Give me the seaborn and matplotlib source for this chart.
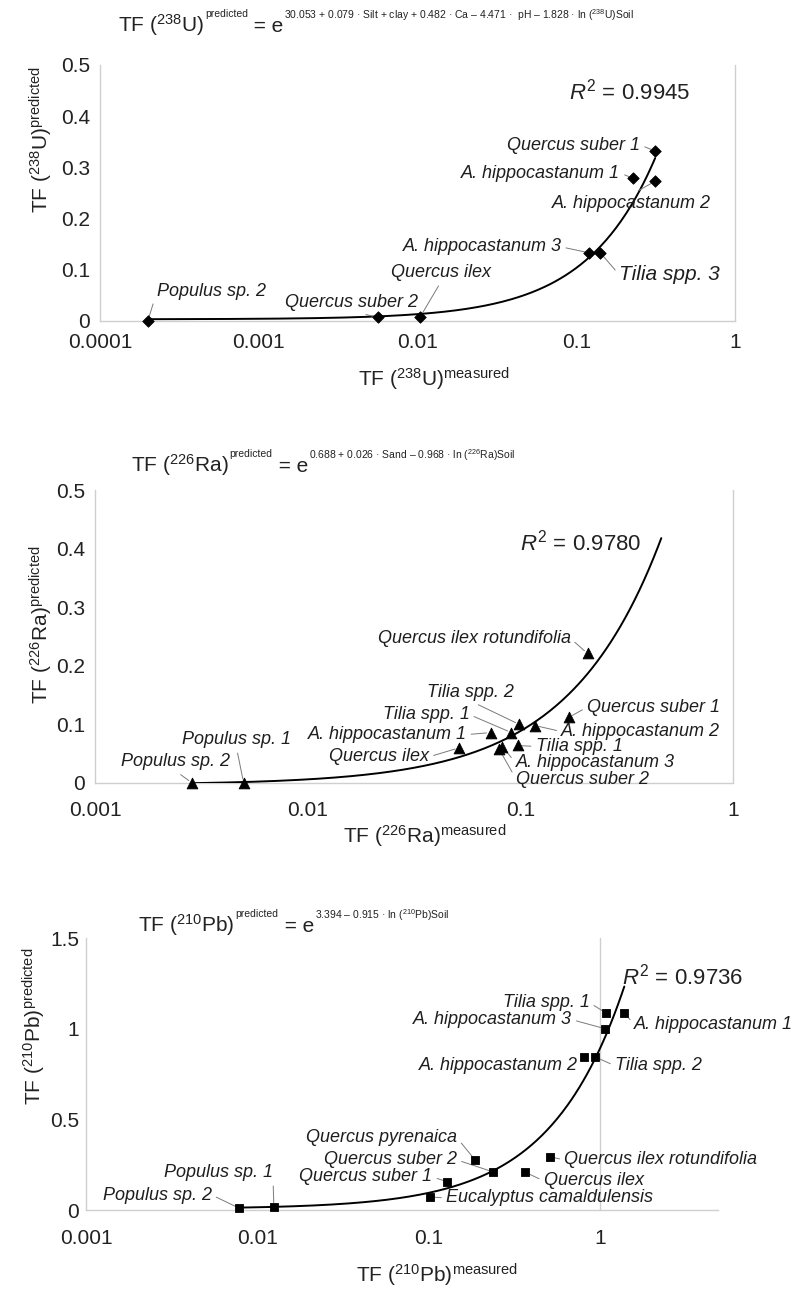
import numpy as np
import pandas as pd
import matplotlib
matplotlib.use("Agg")
import matplotlib.pyplot as plt
import seaborn as sns
from matplotlib.ticker import FuncFormatter, NullLocator

# ---- values ----
u_species = ["Populus sp. 2", "Quercus suber 2", "Quercus ilex", "A. hippocastanum 3",
             "Tilia spp. 3", "A. hippocastanum 1", "Quercus suber 1", "A. hippocastanum 2"]
u_measured = [0.0002, 0.0056, 0.0104, 0.121, 0.142, 0.228, 0.314, 0.314]
u_predicted = [0.0, 0.007, 0.008, 0.133, 0.133, 0.279, 0.332, 0.273]
u_r2 = "0.9945"

ra_species = ["Populus sp. 2", "Populus sp. 1", "Quercus ilex", "A. hippocastanum 1",
              "Tilia spp. 1", "Tilia spp. 2", "A. hippocastanum 2", "Quercus suber 1",
              "Quercus ilex rotundifolia", "Tilia spp. 1", "A. hippocastanum 3", "Quercus suber 2"]
ra_measured = [0.00286, 0.0050, 0.0515, 0.0724, 0.0908, 0.0989, 0.1175, 0.169,
               0.207, 0.097, 0.0824, 0.0794]
ra_predicted = [0.0, 0.0, 0.060, 0.086, 0.086, 0.100, 0.098, 0.112,
                0.221, 0.064, 0.062, 0.058]
ra_r2 = "0.9780"

pb_species = ["Populus sp. 2", "Populus sp. 1", "Quercus suber 1", "Quercus suber 2",
              "Quercus pyrenaica", "Eucalyptus camaldulensis", "Quercus ilex",
              "Quercus ilex rotundifolia", "A. hippocastanum 2", "Tilia spp. 2",
              "Tilia spp. 1", "A. hippocastanum 3", "A. hippocastanum 1"]
pb_measured = [0.0078, 0.0125, 0.129, 0.238, 0.187, 0.102, 0.364, 0.514,
               0.804, 0.936, 1.08, 1.07, 1.39]
pb_predicted = [0.011, 0.017, 0.155, 0.21, 0.276, 0.072, 0.21, 0.293,
                0.845, 0.845, 1.088, 1.0, 1.088]
pb_r2 = "0.9736"

# trend line of the Ra panel is drawn forward past the last point
ra_trend_end = 0.46

# ---- label placement (pixel offsets from the marker) ----
u_layout = [(9, 29, "left"), (-26, 15, "center"), (21, 44, "center"), (-28, 6, "right"),
            (19, -22, "left"), (-13, 5, "right"), (-15, 6, "right"), (-24, -22, "center")]
u_fs = [13, 13, 13, 13, 15, 13, 13, 13]

ra_layout = [(-17, 21, "center"), (-7, 43, "center"), (-30, -9, "right"), (-24, -2, "right"),
             (-42, 18, "right"), (-49, 32, "center"), (26, -6, "left"), (18, 10, "left"),
             (-17, 15, "right"), (18, -1, "left"), (13, -16, "left"), (17, -30, "left")]
ra_fs = [13] * len(ra_species)

pb_layout = [(-27, 13, "right"), (-1, 34, "right"), (-15, 5, "right"), (-36, 12, "right"),
             (-18, 22, "right"), (16, -1, "left"), (19, -9, "left"), (14, -3, "left"),
             (-6, -9, "right"), (20, -9, "left"), (-16, 10, "right"), (-33, 9, "right"),
             (10, -12, "left")]
pb_fs = [13] * len(pb_species)

W, H = 799, 1294
GRAY = "#cfcfcf"
INK = "#1e1e1e"

sns.set_style("white")
plt.rcParams["font.family"] = ["Liberation Sans", "DejaVu Sans"]
plt.rcParams["mathtext.fontset"] = "custom"
plt.rcParams["mathtext.rm"] = "Liberation Sans"
plt.rcParams["mathtext.it"] = "Liberation Sans:italic"
plt.rcParams["mathtext.bf"] = "Liberation Sans:bold"
plt.rcParams["mathtext.sf"] = "Liberation Sans"

fig = plt.figure(figsize=(W / 100, H / 100), dpi=100)


def box(l, t, r, b):
    return [l / W, 1 - b / H, (r - l) / W, (b - t) / H]


def leader_start(ha, dy):
    # point of the label box the leader line leaves from
    if ha == "left":
        return (0, 0.5)
    if ha == "right":
        return (1, 0.5)
    return (0.5, 0) if dy > 0 else (0.5, 1)


def draw_panel(ax, species, measured, predicted, marker, msize, layout, fsizes,
               xlim, ylim, xticks, yticks, xpad, ypad, trend_end=None):
    df = pd.DataFrame({"species": species, "measured": measured, "predicted": predicted})
    slope, icpt = np.polyfit(df["measured"], df["predicted"], 1)
    end = trend_end if trend_end else df["measured"].max()
    grid = np.geomspace(df["measured"].min(), end, 300)
    sns.lineplot(x=grid, y=icpt + slope * grid, color="black", linewidth=1.4, ax=ax, zorder=3)
    sns.scatterplot(data=df, x="measured", y="predicted", marker=marker, s=msize,
                    color="black", edgecolor="black", linewidth=0.6, ax=ax,
                    zorder=4, clip_on=False, legend=False)

    for name, x, y, (dx, dy, ha), fs in zip(species, measured, predicted, layout, fsizes):
        ax.annotate(name, xy=(x, y), xytext=(dx, dy), textcoords="offset pixels",
                    ha=ha, va="center", fontsize=fs, style="italic", color=INK,
                    annotation_clip=False,
                    arrowprops=dict(arrowstyle="-", color="#7a7a7a", lw=0.7,
                                    shrinkA=1, shrinkB=3,
                                    relpos=leader_start(ha, dy)))

    ax.set_xscale("log")
    ax.set_xlim(xlim)
    ax.set_ylim(ylim)
    ax.set_xticks(xticks)
    ax.xaxis.set_minor_locator(NullLocator())
    ax.set_yticks(yticks)
    fmt = FuncFormatter(lambda v, p: f"{v:g}")
    ax.xaxis.set_major_formatter(fmt)
    ax.yaxis.set_major_formatter(fmt)
    ax.tick_params(length=0, labelsize=15, labelcolor="#222222")
    ax.tick_params(axis="x", pad=xpad)
    ax.tick_params(axis="y", pad=ypad)
    ax.grid(False)
    for s in ["top", "right"]:
        ax.spines[s].set_visible(False)
    for s in ["left", "bottom"]:
        ax.spines[s].set_color(GRAY)
        ax.spines[s].set_linewidth(1)
    ax.axvline(1, color=GRAY, lw=1, clip_on=False, zorder=1)


def equation(ax, x, y, iso, exponent):
    # base text, small "predicted", " = e", small exponent, chained left to right
    base = H - y
    t1 = ax.annotate(r"TF ($^{%s}$%s)" % iso, xy=(x, base), xycoords="figure pixels",
                     va="baseline", ha="left", fontsize=15, color="#222222",
                     annotation_clip=False)
    t2 = ax.annotate("predicted", xy=(1, base + 15), xycoords=(t1, "figure pixels"),
                     xytext=(1, 0), textcoords="offset pixels",
                     va="baseline", ha="left", fontsize=7.5, color="#222222",
                     annotation_clip=False)
    t3 = ax.annotate(" = e", xy=(1, base), xycoords=(t2, "figure pixels"),
                     va="baseline", ha="left", fontsize=15, color="#222222",
                     annotation_clip=False)
    ax.annotate(exponent, xy=(1, base + 13), xycoords=(t3, "figure pixels"),
                xytext=(1, 0), textcoords="offset pixels",
                va="baseline", ha="left", fontsize=7.5, color="#222222",
                annotation_clip=False)


def r2_text(ax, x, y, val):
    ax.annotate(r"$R^2$ = " + val, xy=(x, H - y), xycoords="figure pixels",
                va="center", ha="left", fontsize=16, color="#222222",
                annotation_clip=False)


# ---- panel 1: 238U ----
ax1 = fig.add_axes(box(100, 65, 735, 321))
draw_panel(ax1, u_species, u_measured, u_predicted, "D", 34, u_layout, u_fs,
           (1e-4, 1), (0, 0.5), [1e-4, 1e-3, 1e-2, 1e-1, 1], np.arange(0, 0.51, 0.1),
           xpad=9, ypad=7)
ax1.set_xlabel(r"TF ($^{238}$U)$^{\mathrm{measured}}$", fontsize=15, color="#222222")
ax1.xaxis.set_label_coords(0.526, -0.176)
ax1.set_ylabel(r"TF ($^{238}$U)$^{\mathrm{predicted}}$", fontsize=15, color="#222222")
ax1.yaxis.set_label_coords(-0.071, 0.707)
equation(ax1, 118, 32, ("238", "U"),
         r"30.053 + 0.079 · Silt + clay + 0.482 · Ca – 4.471 ·  pH – 1.828 · ln ($^{238}$U)Soil")
r2_text(ax1, 569, 92, u_r2)

# ---- panel 2: 226Ra ----
ax2 = fig.add_axes(box(95, 490, 733, 783))
draw_panel(ax2, ra_species, ra_measured, ra_predicted, "^", 60, ra_layout, ra_fs,
           (1e-3, 1), (0, 0.5), [1e-3, 1e-2, 1e-1, 1], np.arange(0, 0.51, 0.1),
           xpad=13, ypad=7, trend_end=ra_trend_end)
ax2.set_xlabel(r"TF ($^{226}$Ra)$^{\mathrm{measured}}$", fontsize=15, color="#222222")
ax2.xaxis.set_label_coords(0.516, -0.137)
ax2.set_ylabel(r"TF ($^{226}$Ra)$^{\mathrm{predicted}}$", fontsize=15, color="#222222")
ax2.yaxis.set_label_coords(-0.063, 0.539)
equation(ax2, 131, 472, ("226", "Ra"),
         r"0.688 + 0.026 · Sand – 0.968 · ln ($^{226}$Ra)Soil")
r2_text(ax2, 520, 543, ra_r2)

# ---- panel 3: 210Pb ----
ax3 = fig.add_axes(box(86, 938, 718, 1210))
draw_panel(ax3, pb_species, pb_measured, pb_predicted, "s", 34, pb_layout, pb_fs,
           (1e-3, 4.9), (0, 1.5), [1e-3, 1e-2, 1e-1, 1], [0, 0.5, 1, 1.5],
           xpad=14, ypad=5)
ax3.set_xlabel(r"TF ($^{210}$Pb)$^{\mathrm{measured}}$", fontsize=15, color="#222222")
ax3.xaxis.set_label_coords(0.555, -0.19)
ax3.set_ylabel(r"TF ($^{210}$Pb)$^{\mathrm{predicted}}$", fontsize=15, color="#222222")
ax3.yaxis.set_label_coords(-0.060, 0.676)
equation(ax3, 138, 932, ("210", "Pb"), r"3.394 – 0.915 · ln ($^{210}$Pb)Soil")
r2_text(ax3, 622, 977, pb_r2)

fig.savefig("out.png", dpi=100)
plt.close(fig)
